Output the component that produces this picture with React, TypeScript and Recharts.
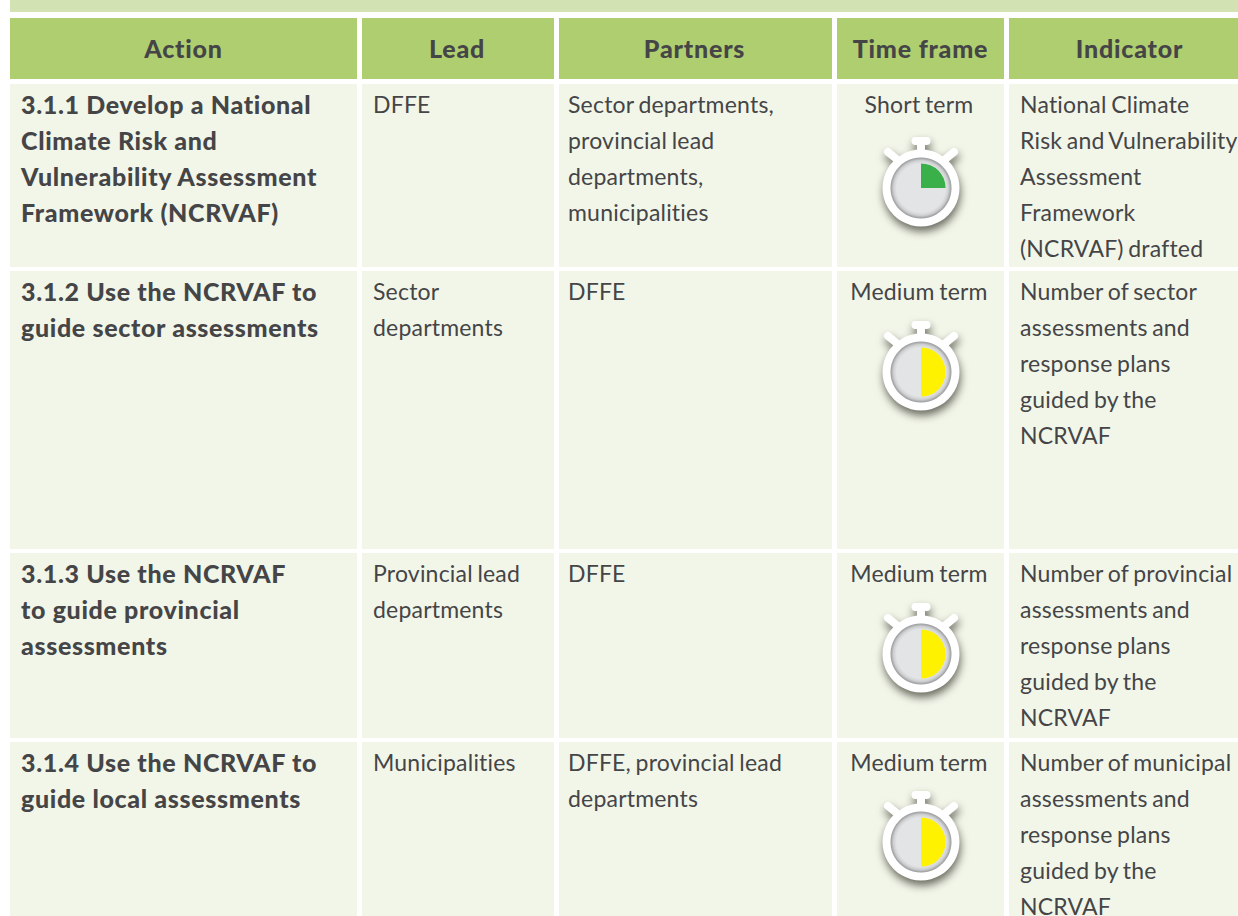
import React from "react";
import { PieChart, Pie, Cell } from "recharts";

const headers = ["Action", "Lead", "Partners", "Time frame", "Indicator"];
const actions = [
  ["3.1.1 Develop a National", "Climate Risk and", "Vulnerability Assessment", "Framework (NCRVAF)"],
  ["3.1.2 Use the NCRVAF to", "guide sector assessments"],
  ["3.1.3 Use the NCRVAF", "to guide provincial", "assessments"],
  ["3.1.4 Use the NCRVAF to", "guide local assessments"],
];
const leads = [["DFFE"], ["Sector", "departments"], ["Provincial lead", "departments"], ["Municipalities"]];
const partners = [
  ["Sector departments,", "provincial lead", "departments,", "municipalities"],
  ["DFFE"],
  ["DFFE"],
  ["DFFE, provincial lead", "departments"],
];
const timeFrames = ["Short term", "Medium term", "Medium term", "Medium term"];
const elapsedShare = [25, 50, 50, 50];
const dialColors = ["#39b04a", "#fff200", "#fff200", "#fff200"];
const indicators = [
  ["National Climate", "Risk and Vulnerability", "Assessment", "Framework", "(NCRVAF) drafted"],
  ["Number of sector", "assessments and", "response plans", "guided by the", "NCRVAF"],
  ["Number of provincial", "assessments and", "response plans", "guided by the", "NCRVAF"],
  ["Number of municipal", "assessments and", "response plans", "guided by the", "NCRVAF"],
];

const colX = [10, 362, 559, 837, 1009];
const colW = [347, 192, 273, 167, 229];
const rowY = [84, 271, 553, 742];
const rowH = [183, 278, 185, 174];
const textInset = [11, 11, 9, 0, 11];
const headerShift = [0, -1, -1, 0, 6];
const dialY = [188, 372, 654, 842];
const FONT = 'Lato, "Open Sans", sans-serif';
const INK = "#454547";

function box(x: number, y: number, w: number, h: number, bg: string): React.CSSProperties {
  return { position: "absolute", left: x, top: y, width: w, height: h, background: bg };
}

function Lines({ lines, x, y, bold, center, w }: { lines: string[]; x: number; y: number; bold?: boolean; center?: boolean; w?: number }) {
  return (
    <div
      style={{
        position: "absolute",
        left: x,
        top: y,
        width: center ? w : undefined,
        textAlign: center ? "center" : "left",
        fontFamily: FONT,
        fontSize: bold ? 25 : 23,
        fontWeight: bold ? 900 : 400,
        letterSpacing: bold ? 0.65 : 0.2,
        wordSpacing: bold ? 0 : -1.5,
        lineHeight: "36px",
        color: INK,
        whiteSpace: "nowrap",
      }}
    >
      {lines.map((l, i) => (
        <div key={i}>{l}</div>
      ))}
    </div>
  );
}

function Stopwatch({ idx, cy }: { idx: number; cy: number }) {
  const S = 120;
  const c = S / 2;
  const share = elapsedShare[idx];
  const ring = [{ name: "ring", value: 1 }];
  const dial = [{ name: "dial", value: 1 }];
  const elapsed = [
    { name: "elapsed", value: share },
    { name: "rest", value: 100 - share },
  ];
  const gid = `dial-${idx}`;
  return (
    <div style={{ position: "absolute", left: 921 - c, top: cy - c, width: S, height: S, filter: "drop-shadow(1px 5px 4px rgba(60,60,50,0.75))" }}>
      <PieChart width={S} height={S} margin={{ top: 0, right: 0, bottom: 0, left: 0 }}>
        <defs>
          <radialGradient id={gid}>
            <stop offset="0.8" stopColor="#e3e4e6" />
            <stop offset="0.9" stopColor="#cfd0d2" />
            <stop offset="1" stopColor="#98999b" />
          </radialGradient>
        </defs>
        <rect x={c - 4} y={c - 46} width={8} height={14} fill="#fff" />
        <rect x={c - 9.5} y={c - 51} width={19} height={8} rx={4} fill="#fff" />
        <line x1={c - 33} y1={c - 36} x2={c - 22} y2={c - 27} stroke="#fff" strokeWidth={8} strokeLinecap="round" />
        <line x1={c + 33} y1={c - 36} x2={c + 22} y2={c - 27} stroke="#fff" strokeWidth={8} strokeLinecap="round" />
        <Pie data={ring} dataKey="value" cx={c} cy={c} innerRadius={0} outerRadius={38.5} stroke="none" fill="#ffffff" isAnimationActive={false} />
        <Pie data={dial} dataKey="value" cx={c} cy={c} innerRadius={0} outerRadius={30.5} stroke="none" fill={`url(#${gid})`} isAnimationActive={false} />
        <Pie data={elapsed} dataKey="value" cx={c} cy={c} innerRadius={0} outerRadius={24.6} startAngle={90} endAngle={-270} stroke="none" isAnimationActive={false}>
          <Cell fill={dialColors[idx]} />
          <Cell fill="transparent" />
        </Pie>
      </PieChart>
    </div>
  );
}

export default function App() {
  return (
    <div style={{ position: "absolute", left: 0, top: 0, width: 1238, height: 916, overflow: "hidden", background: "#fff" }}>
      <div style={box(10, 0, 1228, 12, "#d3e2b2")} />
      {headers.map((h, c) => (
        <div
          key={h}
          style={{
            ...box(colX[c], 18, colW[c], 61, "#afce70"),
            textAlign: "center",
            lineHeight: "61px",
            fontFamily: FONT,
            fontSize: 25,
            fontWeight: 900,
            letterSpacing: 0.8,
            color: INK,
          }}
        >
          <span style={{ position: "relative", left: headerShift[c] }}>{h}</span>
        </div>
      ))}
      {rowY.map((y, r) =>
        colX.map((x, c) => <div key={`${r}-${c}`} style={box(x, y, colW[c], rowH[r], "#f2f6e9")} />)
      )}
      {rowY.map((y, r) => (
        <React.Fragment key={r}>
          <Lines lines={actions[r]} x={colX[0] + textInset[0]} y={y + 2} bold />
          <Lines lines={leads[r]} x={colX[1] + textInset[1]} y={y + 2} />
          <Lines lines={partners[r]} x={colX[2] + textInset[2]} y={y + 2} />
          <Lines lines={[timeFrames[r]]} x={colX[3]} w={164} y={y + 2} center />
          <Lines lines={indicators[r]} x={colX[4] + textInset[4]} y={y + 2} />
          <Stopwatch idx={r} cy={dialY[r]} />
        </React.Fragment>
      ))}
    </div>
  );
}
